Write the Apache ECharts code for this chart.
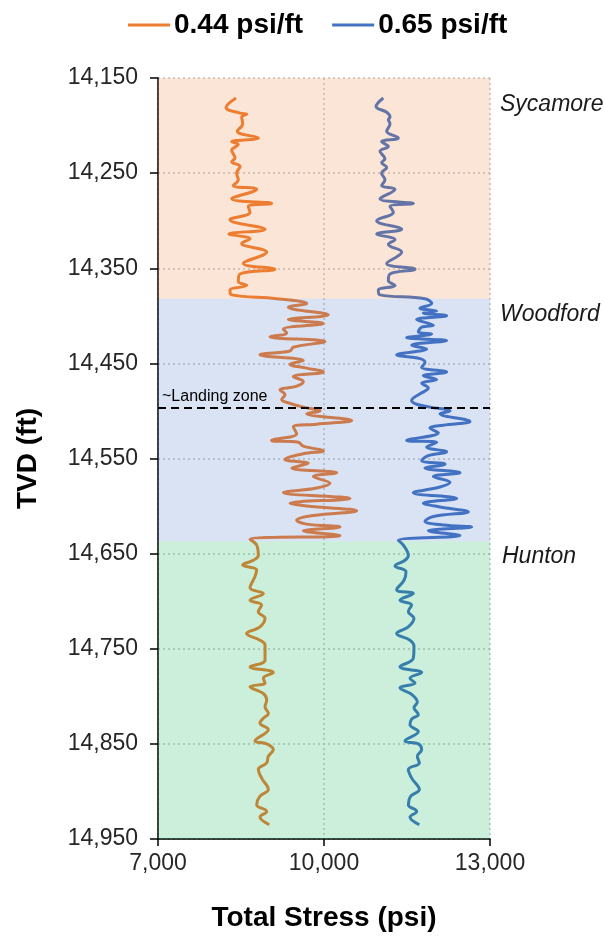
<!DOCTYPE html>
<html>
<head>
<meta charset="utf-8">
<script src="https://cdn.jsdelivr.net/npm/echarts@6/dist/echarts.min.js"></script>
<style>
  html, body { margin: 0; padding: 0; background: #ffffff; }
  #chart { width: 604px; height: 940px; }
</style>
</head>
<body>
<div id="chart"></div>
<script>
// Total stress logs for two pore-pressure gradients
const seriesNames = ['0.44 psi/ft', '0.65 psi/ft'];

// 0.44 psi/ft case: depth (ft TVD) and total stress (psi)
const lowDepth = [
  14171, 14181, 14187, 14188, 14191, 14198, 14206, 14213, 14217, 14220,
  14226, 14234, 14238, 14243, 14250, 14257, 14263, 14267, 14277, 14282,
  14285, 14291, 14299, 14309, 14314, 14319, 14324, 14333, 14345, 14351,
  14356, 14364, 14368, 14373, 14378,
  14382, 14387, 14391, 14399, 14404, 14408, 14414, 14418, 14422, 14427,
  14433, 14437, 14441, 14447, 14451, 14455, 14459, 14464, 14469, 14474,
  14478, 14483, 14488, 14492, 14496, 14500, 14503, 14510, 14514, 14517,
  14524, 14531, 14533, 14537, 14542, 14545, 14551, 14555, 14560, 14565,
  14569, 14576, 14581, 14586, 14592, 14597, 14600, 14605, 14610, 14615,
  14619, 14622, 14626, 14631, 14635, 14641,
  14652, 14657, 14662, 14667, 14674, 14686, 14692, 14699, 14704, 14711,
  14718, 14727, 14734, 14741, 14746, 14762, 14769, 14775, 14781, 14786,
  14790, 14797, 14804, 14811, 14818, 14823, 14828, 14835, 14847, 14850,
  14856, 14863, 14870, 14877, 14886, 14898, 14905, 14914, 14921, 14927,
  14935
];
const lowStress = [
  8410, 8229, 8482, 8603, 8513, 8531, 8433, 8813, 8332, 8451,
  8332, 8391, 8332, 8482, 8422, 8451, 8361, 8784, 8332, 9055,
  8632, 8663, 8301, 8934, 8283, 8663, 8513, 8964, 8541, 9114,
  8482, 8451, 8603, 8301, 8332,
  9144, 9687, 9355, 10078, 9355, 9988, 9265, 9325, 9024, 10018,
  9446, 9385, 8843, 9626, 9385, 9687, 9988, 9446, 9626, 9506,
  9205, 9295, 9235, 9385, 9626, 9928, 9687, 10500, 9867, 9446,
  9506, 9054, 9536, 9626, 9988, 9626, 9295, 9717, 9416, 10229,
  9807, 10108, 9867, 9265, 10470, 9386, 9687, 10590, 9807, 9506,
  9687, 10289, 9626, 10289, 8663, 8783,
  8813, 8723, 8530, 8783, 8753, 8663, 8904, 8663, 8873, 8813,
  8934, 8843, 8602, 8843, 8934, 8934, 8663, 9084, 8904, 8934,
  8663, 8904, 8964, 8934, 8994, 8904, 8843, 8994, 8753, 8964,
  9084, 8994, 8964, 8813, 8873, 8994, 8843, 8783, 8964, 8843,
  9012
];

// 0.65 psi/ft case: depth (ft TVD) and total stress (psi)
const highDepth = [
  14171, 14180, 14186, 14191, 14194, 14198, 14206, 14213, 14217, 14222,
  14227, 14235, 14239, 14244, 14250, 14257, 14263, 14267, 14277, 14282,
  14285, 14291, 14300, 14309, 14314, 14320, 14325, 14333, 14345, 14351,
  14356, 14363, 14368, 14373, 14378,
  14382, 14387, 14392, 14395, 14397, 14400, 14404, 14410, 14412, 14417,
  14419, 14423, 14426, 14431, 14435, 14441, 14445, 14449, 14454, 14459,
  14463, 14467, 14471, 14476, 14482, 14489, 14493, 14496, 14500, 14503,
  14511, 14515, 14518, 14523, 14531, 14533, 14538, 14543, 14547, 14552,
  14556, 14560, 14565, 14569, 14575, 14580, 14586, 14592, 14597, 14601,
  14606, 14611, 14616, 14620, 14622, 14626, 14631, 14636, 14641,
  14652, 14657, 14663, 14669, 14678, 14688, 14692, 14699, 14704, 14711,
  14718, 14727, 14734, 14741, 14747, 14760, 14769, 14775, 14781, 14786,
  14791, 14798, 14806, 14812, 14819, 14824, 14830, 14837, 14847, 14850,
  14856, 14863, 14870, 14877, 14886, 14898, 14905, 14914, 14921, 14927,
  14935
];
const highStress = [
  11072, 10940, 11133, 11193, 11163, 11193, 11133, 11343, 11042, 11163,
  11012, 11102, 11042, 11133, 11042, 11102, 11042, 11283, 11012, 11614,
  11193, 11253, 10952, 11404, 10952, 11283, 11163, 11404, 11133, 11645,
  11193, 11163, 11283, 10982, 11012,
  11825, 11946, 11735, 12036, 11795, 12217, 11675, 11976, 11765, 11705,
  11946, 11494, 12217, 11584, 11855, 11313, 11735, 11825, 11765, 12217,
  11795, 12036, 11765, 11885, 11735, 11584, 11675, 11915, 12277, 12096,
  12638, 12157, 11915, 12066, 11494, 12036, 11855, 12217, 11885, 11765,
  12187, 11825, 12458, 11976, 12277, 12096, 11614, 12397, 11795, 12096,
  12608, 11976, 11825, 12157, 12669, 11885, 12458, 11343, 11434,
  11524, 11464, 11283, 11482, 11446, 11313, 11614, 11373, 11584, 11524,
  11626, 11524, 11313, 11554, 11626, 11614, 11373, 11765, 11554, 11644,
  11373, 11584, 11687, 11626, 11705, 11584, 11554, 11705, 11464, 11705,
  11765, 11687, 11723, 11524, 11584, 11723, 11566, 11524, 11675, 11554,
  11723
];

// Formation intervals (ft TVD)
const zoneNames = ['Sycamore', 'Woodford', 'Hunton'];
const zoneTops = [14150, 14382, 14637];
const zoneBases = [14382, 14637, 14950];

// Target landing depth (ft TVD)
const landingDepth = 14497;
const landingText = '~Landing zone';

// Axis ticks
const depthTicks = [14150, 14250, 14350, 14450, 14550, 14650, 14750, 14850, 14950];
const stressTicks = [7000, 10000, 13000];

const FONT = '"Liberation Sans", Arial, sans-serif';
const lineColors = ['#ED7D31', '#4472C4'];
const zoneTints = ['rgba(237,125,49,0.2)', 'rgba(68,114,196,0.2)', 'rgba(0,176,80,0.2)'];
const zoneLabelOffsets = [[10, 27], [10, 16], [12, 15]];

function withCommas(v) {
  return String(Math.round(v)).replace(/\B(?=(\d{3})+(?!\d))/g, ',');
}
function pairs(stress, depth) {
  return stress.map((s, i) => [s, depth[i]]);
}

const chart = echarts.init(document.getElementById('chart'), null, { renderer: 'canvas' });

const option = {
  animation: false,
  backgroundColor: '#ffffff',
  textStyle: { fontFamily: FONT },
  legend: {
    data: seriesNames,
    top: 11,
    left: 128,
    padding: 0,
    icon: 'rect',
    itemWidth: 42,
    itemHeight: 3,
    itemGap: 29,
    textStyle: { fontSize: 28, fontWeight: 'bold', color: '#000', fontFamily: FONT, padding: [0, 0, 0, -1] }
  },
  grid: { left: 158, right: 114, top: 78, bottom: 101, containLabel: false },
  xAxis: {
    type: 'value',
    min: 7000,
    max: 13000,
    name: 'Total Stress (psi)',
    nameLocation: 'middle',
    nameGap: 65,
    nameTextStyle: { fontSize: 28, fontWeight: 'bold', color: '#000', fontFamily: FONT },
    axisLine: { show: true, lineStyle: { color: '#000', width: 1.5 } },
    axisTick: { show: true, customValues: stressTicks, length: 7, lineStyle: { color: '#000', width: 1.5 } },
    axisLabel: { customValues: stressTicks, formatter: withCommas, fontSize: 23, color: '#262626', margin: 13, fontFamily: FONT },
    splitLine: { show: true, lineStyle: { type: [2, 3], color: '#c4c4c4', width: 1.5 } }
  },
  yAxis: {
    type: 'value',
    inverse: true,
    min: 14150,
    max: 14950,
    name: 'TVD (ft)',
    nameLocation: 'middle',
    nameGap: 116,
    nameTextStyle: { fontSize: 28, fontWeight: 'bold', color: '#000', fontFamily: FONT },
    axisLine: { show: true, lineStyle: { color: '#000', width: 1.5 } },
    axisTick: { show: true, customValues: depthTicks, length: 8, lineStyle: { color: '#000', width: 1.5 } },
    axisLabel: { customValues: depthTicks, formatter: withCommas, fontSize: 23, color: '#262626', margin: 20, fontFamily: FONT },
    splitLine: { show: true, lineStyle: { type: [2, 3], color: '#c4c4c4', width: 1.5 } }
  },
  series: [
    {
      name: seriesNames[0],
      type: 'line',
      data: pairs(lowStress, lowDepth),
      showSymbol: false,
      smooth: 0.4,
      z: 2,
      color: lineColors[0],
      lineStyle: { width: 3, color: lineColors[0] }
    },
    {
      name: seriesNames[1],
      type: 'line',
      data: pairs(highStress, highDepth),
      showSymbol: false,
      smooth: 0.4,
      z: 2,
      color: lineColors[1],
      lineStyle: { width: 3, color: lineColors[1] }
    },
    {
      // formation tints laid over the logs, plus the landing-zone marker
      name: 'formations',
      type: 'line',
      data: [],
      markArea: {
        silent: true,
        z: 10,
        data: zoneNames.map((name, i) => [
          {
            name: name,
            yAxis: zoneTops[i],
            itemStyle: { color: zoneTints[i] },
            label: {
              show: true,
              position: ['100%', 0],
              offset: zoneLabelOffsets[i],
              align: 'left',
              verticalAlign: 'middle',
              formatter: name,
              fontSize: 23,
              fontStyle: 'italic',
              color: '#1a1a1a',
              fontFamily: FONT
            }
          },
          { yAxis: zoneBases[i] }
        ])
      },
      markLine: {
        silent: true,
        z: 12,
        symbol: ['none', 'none'],
        lineStyle: { color: '#000', width: 2, type: [8, 5] },
        label: {
          show: true,
          position: 'insideStartTop',
          formatter: landingText,
          fontSize: 16,
          color: '#000',
          distance: [4, 3],
          fontFamily: FONT
        },
        data: [{ yAxis: landingDepth }]
      }
    }
  ]
};

chart.setOption(option);
</script>
</body>
</html>
